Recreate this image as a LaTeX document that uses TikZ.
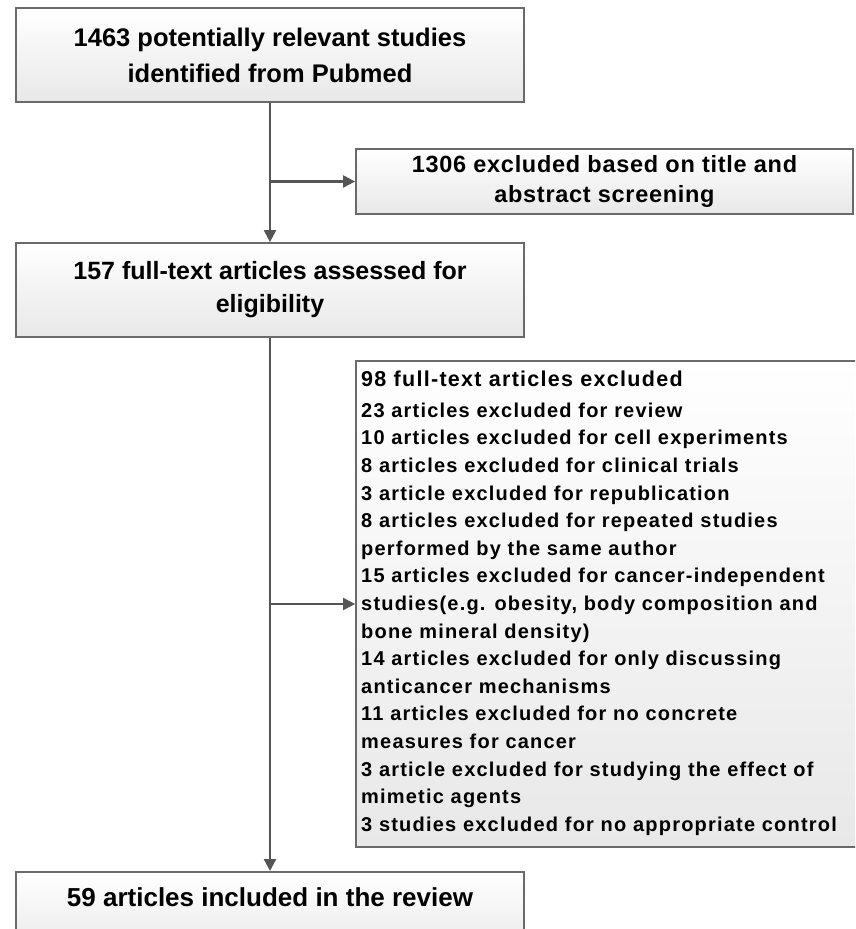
\documentclass[tikz,border=0pt]{standalone}
\usepackage{fontspec}
\setmainfont{Liberation Sans}
\newfontfamily\widefont{Liberation Sans}[LetterSpace=6]
\newfontfamily\midfont{Liberation Sans}[LetterSpace=3]
\usetikzlibrary{arrows.meta,positioning}
\definecolor{boxline}{HTML}{6A6A6A}
\definecolor{boxfill}{HTML}{E8E8E8}
\definecolor{linkgray}{HTML}{555555}
\tikzset{
  box/.style={rectangle, draw=boxline, line width=1.8pt, top color=white,
    bottom color=boxfill, align=center, inner sep=0pt, font=\bfseries},
  link/.style={draw=linkgray, line width=2.2pt},
  tip/.style={link, -{Triangle[length=12pt,width=12pt]}},
}

\begin{document}
\begin{tikzpicture}[x=1pt,y=-1pt]
  \useasboundingbox (0,0) rectangle (855,929);
  \clip (0,0) rectangle (855,929);

  % left column
  \node[box, minimum width=508pt, minimum height=94pt,
    font=\bfseries\fontsize{25.5}{36}\selectfont] (ident) at (270,55)
    {1463 potentially relevant studies\\identified from Pubmed};
  \node[box, minimum width=508pt, minimum height=94pt,
    font=\bfseries\fontsize{25}{33}\selectfont] (full) at (270,290)
    {157 full-text articles assessed for\\eligibility};
  \node[box, anchor=north, minimum width=508pt, text height=35pt, text depth=50pt,
    font=\bfseries\fontsize{26}{30}\selectfont] (incl) at (270,871)
    {59 articles included in the review};

  % right column
  \node[box, minimum width=497pt, minimum height=65pt,
    font=\midfont\bfseries\fontsize{23.5}{30}\selectfont] (excl1) at (604.5,181.5)
    {1306 excluded based on title and\\abstract screening};
  \node[box, minimum width=506pt, minimum height=486pt] (excl2) at (609,604) {};
  \node[anchor=north west, align=left, inner sep=0pt,
    font=\widefont\bfseries\fontsize{20}{27.6}\selectfont] (reasons) at (361,371)
    {{\bfseries\fontsize{21.5}{27.6}\selectfont 98 full-text articles excluded}\\[3pt]
     23 articles excluded for review\\
     10 articles excluded for cell experiments\\
     8 articles excluded for clinical trials\\
     3 article excluded for republication\\
     8 articles excluded for repeated studies\\
     performed by the same author\\
     15 articles excluded for cancer-independent\\
     studies(e.g. obesity, body composition and\\
     bone mineral density)\\
     14 articles excluded for only discussing\\
     anticancer mechanisms\\
     11 articles excluded for no concrete\\
     measures for cancer\\
     3 article excluded for studying the effect of\\
     mimetic agents\\
     3 studies excluded for no appropriate control};

  % connectors
  \coordinate (split1) at (ident.south |- excl1.west);
  \coordinate (split2) at (full.south |- excl2.west);
  \draw[tip] (ident.south) -- (full.north);
  \draw[tip] (full.south) -- (incl.north);
  \draw[tip] (split1) -- (excl1.west);
  \draw[tip] (split2) -- (excl2.west);
\end{tikzpicture}
\end{document}
